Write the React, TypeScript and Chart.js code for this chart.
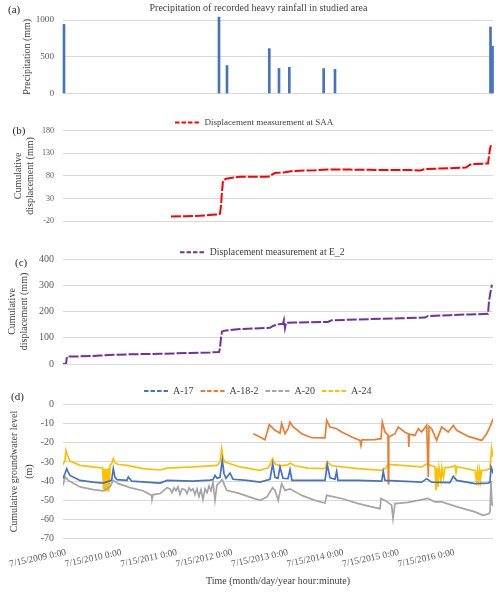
import React, { useEffect, useRef } from 'react';
import { Chart, registerables } from 'chart.js';

Chart.register(...registerables);

const FONT = '"Liberation Serif", "Times New Roman", Times, serif';

// x axis: years elapsed since 7/15/2009 0:00
const X_MIN = -0.054;
const X_MAX = 7.694;
const yearTicks = [0, 1, 2, 3, 4, 5, 6, 7];
const yearLabels = [
  '7/15/2009 0:00', '7/15/2010 0:00', '7/15/2011 0:00', '7/15/2012 0:00',
  '7/15/2013 0:00', '7/15/2014 0:00', '7/15/2015 0:00', '7/15/2016 0:00',
];

// (a) heavy rainfall events
const rainX = [-0.036, 2.757, 2.901, 3.663, 3.838, 4.024, 4.643, 4.847, 7.649, 7.685];
const rainY = [940, 1040, 380, 610, 340, 356, 340, 328, 905, 644];

// (b) displacement at SAA  [time, mm]
const saa: [number, number][] = [
  [1.892, -9.4], [2.144, -9], [2.414, -8], [2.631, -6], [2.739, -5], [2.775, -3.5],
  [2.793, 15], [2.811, 45], [2.829, 70], [2.883, 74], [2.991, 76], [3.135, 78],
  [3.405, 78.5], [3.604, 78], [3.676, 79], [3.712, 83], [3.766, 86.5], [3.946, 88],
  [4.09, 91], [4.306, 92], [4.486, 92.5], [4.757, 94.5], [5.117, 94], [5.477, 93.5],
  [5.838, 93], [6.198, 93], [6.378, 92], [6.468, 95], [6.739, 96.5], [7.009, 97.5],
  [7.207, 98.5], [7.279, 105], [7.369, 106.5], [7.604, 107.5], [7.622, 125],
  [7.64, 140], [7.658, 148],
];

// (c) displacement at E_2  [time, mm]
const e2: [number, number][] = [
  [-0.054, 0], [0, 0], [0.018, 28], [0.252, 29], [0.613, 32], [0.847, 35], [1.153, 37],
  [1.694, 39], [2.234, 42], [2.595, 44], [2.757, 46], [2.775, 60], [2.793, 100],
  [2.811, 124], [2.883, 128], [3.135, 133], [3.495, 136], [3.676, 138], [3.73, 145],
  [3.82, 151], [3.91, 153], [3.928, 168], [3.946, 137], [3.964, 157], [4.126, 158],
  [4.396, 159], [4.721, 160], [4.775, 166], [5.027, 168], [5.477, 171], [6.018, 174],
  [6.468, 177], [6.523, 183], [6.919, 186], [7.279, 189], [7.604, 191], [7.622, 240],
  [7.64, 262], [7.658, 285], [7.676, 302],
];

// (d) groundwater levels  [time, m]
const a17: [number, number][] = [
  [-0.054, -38.7], [-0.018, -36], [0.013, -33.5], [0.036, -35], [0.072, -37], [0.252, -39.6],
  [0.486, -40.5], [0.667, -41], [0.823, -39.6], [0.852, -33.5], [0.883, -38], [0.919, -39.2],
  [1.099, -39.6], [1.123, -37.8], [1.184, -40], [1.694, -41], [1.82, -39.6], [2.288, -40],
  [2.595, -39.5], [2.649, -39.2], [2.685, -37], [2.721, -38.5], [2.775, -38], [2.816, -29],
  [2.847, -36], [2.883, -38.5], [2.955, -35.8], [3.009, -39], [3.261, -39.6], [3.495, -40.5],
  [3.676, -39], [3.724, -31], [3.766, -38], [3.82, -38.5], [3.856, -32.6], [3.91, -38.5],
  [4.0, -38.7], [4.036, -34], [4.072, -39.6], [4.36, -39.6], [4.667, -39.6], [4.708, -31.3],
  [4.757, -38.3], [4.847, -39], [4.877, -35], [4.901, -39.6], [5.261, -39.6], [5.688, -40],
  [5.717, -35], [5.748, -39.6], [6.409, -40.5], [6.499, -38.7], [6.589, -40.5], [6.919, -40.8],
  [6.978, -37.5], [7.039, -39.6], [7.369, -41.3], [7.604, -41], [7.64, -40.5], [7.658, -32.6],
  [7.676, -34], [7.694, -36],
];

const a182: [number, number][] = [
  [3.375, -15.3], [3.459, -16.5], [3.586, -18.4], [3.663, -10.6], [3.766, -13.5], [3.856, -15],
  [3.886, -10], [3.946, -15.3], [4.005, -12.5], [4.036, -9.2], [4.095, -11.8], [4.247, -15.3],
  [4.427, -17.4], [4.667, -17.5], [4.697, -8.3], [4.757, -11.8], [4.877, -12.7], [4.968, -14.4],
  [5.148, -17], [5.297, -18.8], [5.315, -21.5], [5.333, -18.5], [5.568, -18.4], [5.676, -17.9],
  [5.699, -9.2], [5.748, -14.4], [5.802, -16], [5.807, -41.3], [5.816, -17], [5.928, -15.3],
  [5.987, -11.8], [6.108, -14.5], [6.168, -15.3], [6.177, -22.2], [6.186, -15.5], [6.288, -16.2],
  [6.348, -12.7], [6.409, -14.4], [6.499, -10.9], [6.528, -37.8], [6.541, -11.5], [6.589, -12.7],
  [6.679, -18.8], [6.77, -11.8], [6.888, -14.4], [6.978, -11], [7.039, -13.5], [7.249, -16.7],
  [7.49, -18.8], [7.58, -15.3], [7.64, -11.8], [7.694, -7.5],
];

const a20: [number, number][] = [
  [-0.054, -42.2], [-0.018, -37.8], [0.041, -39.6], [0.252, -43], [0.492, -44.4], [0.672, -45],
  [0.793, -43], [0.852, -39.6], [0.942, -41.3], [1.094, -42.7], [1.153, -43.4], [1.387, -45],
  [1.544, -47.4], [1.55, -49.6], [1.568, -47], [1.694, -46.5], [1.82, -43.4], [1.874, -44],
  [1.91, -46], [1.946, -43.5], [1.982, -45], [2.018, -43], [2.054, -47], [2.09, -44],
  [2.144, -44.5], [2.18, -46.5], [2.216, -43.5], [2.252, -45], [2.288, -44], [2.324, -47],
  [2.36, -44], [2.396, -48], [2.432, -44.5], [2.468, -49.6], [2.505, -44], [2.541, -46],
  [2.577, -42.5], [2.613, -45], [2.649, -40.5], [2.685, -50], [2.721, -42], [2.775, -40.5],
  [2.816, -39.2], [2.895, -44.8], [3.135, -46.5], [3.315, -48.3],
  [3.495, -50], [3.616, -48.3], [3.724, -43.4], [3.766, -44.8], [3.825, -50], [3.886, -41.3],
  [3.946, -44.8], [4.036, -44], [4.247, -47.4], [4.486, -50], [4.667, -51.4], [4.697, -47.4],
  [4.968, -49], [5.267, -51.7], [5.568, -53.8], [5.658, -54.3], [5.676, -49], [5.748, -50],
  [5.868, -52.5], [5.892, -59.5], [5.928, -51.7], [6.162, -51], [6.523, -49], [6.649, -50.8],
  [6.77, -50.8], [7.063, -53.5], [7.369, -56], [7.514, -57.8], [7.617, -57], [7.64, -56],
  [7.658, -40], [7.676, -52], [7.694, -53],
];

const a24: [number, number][] = [
  [-0.054, -31.4], [-0.018, -29], [0, -24], [0.018, -26], [0.072, -29.5], [0.252, -31.8],
  [0.486, -32.6], [0.661, -33.2], [0.676, -44], [0.69, -33.5], [0.703, -45], [0.717, -33.5],
  [0.73, -44.5], [0.744, -33.5], [0.757, -45], [0.771, -33], [0.784, -43], [0.793, -32],
  [0.829, -30.5], [0.852, -28.3], [0.883, -30.5], [0.937, -31.2], [1.099, -31.8], [1.387, -33.5],
  [1.694, -34.2], [1.82, -33.2], [2.288, -32.6], [2.595, -32], [2.721, -31.8], [2.775, -30],
  [2.805, -23], [2.829, -28], [2.865, -30], [3.135, -32.6], [3.495, -34.4], [3.64, -33],
  [3.676, -31.5], [3.724, -28.3], [3.766, -31], [3.856, -32], [4.0, -31.5], [4.036, -30.6],
  [4.126, -32], [4.36, -33.2], [4.667, -33.5], [4.708, -30], [4.793, -32], [5.261, -33.5],
  [5.688, -34.4], [5.748, -33.5], [5.807, -31.3], [6.162, -32], [6.409, -32.6], [6.499, -31],
  [6.589, -32], [6.649, -32.5], [6.667, -44.8], [6.685, -33], [6.703, -43], [6.721, -33],
  [6.757, -39.6], [6.775, -33], [6.802, -38], [6.829, -33], [6.95, -32.6], [7.009, -31.8],
  [7.027, -35.5], [7.045, -32.5], [7.369, -34.4], [7.396, -39.6], [7.414, -34.5], [7.432, -39.6],
  [7.45, -34.5], [7.468, -39.6], [7.486, -34.4], [7.55, -34.4], [7.64, -33.5], [7.67, -23],
  [7.694, -27.4],
];

const toXY = (pts: [number, number][]) => pts.map(([x, y]) => ({ x, y }));

function xScale(show: boolean) {
  return {
    type: 'linear',
    min: X_MIN,
    max: X_MAX,
    offset: false,
    display: show,
    afterBuildTicks: (s: any) => { s.ticks = yearTicks.map((v) => ({ value: v })); },
    afterFit: show ? (s: any) => { s.height = 52.2; } : undefined,
    grid: { display: false, drawTicks: false },
    border: { display: false },
    ticks: {
      autoSkip: false, minRotation: 12, maxRotation: 12, padding: 8,
      color: '#595959', font: { family: FONT, size: 9.5 },
      callback: (_v: any, i: number) => yearLabels[i],
    },
    title: {
      display: show, text: 'Time (month/day/year hour:minute)', color: '#404040',
      font: { family: FONT, size: 10 }, padding: { top: 4, bottom: 4 },
    },
  };
}

function yScale(min: number, max: number, ticks: number[], tickSize: number,
  title: string | string[], lineHeight: number, titlePad: number) {
  return {
    type: 'linear',
    min, max,
    afterBuildTicks: (s: any) => { s.ticks = ticks.map((v) => ({ value: v })); },
    afterFit: (s: any) => { s.width = 63; },
    grid: { color: '#d9d9d9', lineWidth: 1, drawTicks: false },
    border: { display: false },
    ticks: {
      padding: 9, color: '#595959', font: { family: FONT, size: tickSize },
      callback: (v: any) => String(v),
    },
    title: {
      display: true, text: title, color: '#404040',
      font: { family: FONT, size: 10, lineHeight }, padding: { top: titlePad, bottom: 0 },
    },
  };
}

function legendOpts(size: number, pad: number, maxHeight: number, boxW: number, lineW: number) {
  return {
    display: true, position: 'top', maxHeight,
    labels: {
      usePointStyle: true, pointStyle: 'line', pointStyleWidth: boxW, padding: pad,
      color: '#404040', font: { family: FONT, size: size },
      generateLabels: (chart: any) =>
        (Chart.defaults.plugins.legend.labels as any).generateLabels(chart).map((it: any) => ({
          ...it, lineDash: [4.5, 2], lineWidth: lineW,
        })),
    },
  };
}

const shift = (dx: number) => ({
  id: 'shiftBoxes',
  afterLayout(chart: any) {
    const l = chart.legend;
    if (l) { l.left += dx; l.right += dx; }
    const t = chart.titleBlock;
    if (t) { t.left += dx; t.right += dx; }
  },
});

const common = {
  responsive: false, animation: false, devicePixelRatio: 1, events: [],
};

function buildA(): any {
  return {
    type: 'bar',
    data: {
      datasets: [{
        data: rainX.map((x, i) => ({ x, y: rainY[i] })),
        backgroundColor: '#4472C4', barThickness: 2, clip: false,
      }],
    },
    options: {
      ...common,
      layout: { padding: { left: 0, right: 7, top: 0, bottom: 6 }, autoPadding: false },
      plugins: {
        legend: { display: false },
        tooltip: { enabled: false },
        title: {
          display: true, text: 'Precipitation of recorded heavy rainfall in studied area',
          color: '#404040', font: { family: FONT, size: 10, weight: 'normal', lineHeight: 1.2 },
          padding: { top: 2.5, bottom: 5.5 },
        },
      },
      scales: {
        x: xScale(false),
        y: yScale(0, 1000, [0, 500, 1000], 9.2, 'Precipitation (mm)', 1.2, 21.5),
      },
    },
    plugins: [shift(12)],
  };
}

function buildB(): any {
  return {
    type: 'line',
    data: {
      datasets: [{
        label: 'Displacement measurement at SAA', data: toXY(saa),
        borderColor: '#FF0000', backgroundColor: '#FF0000', borderWidth: 2,
        borderDash: [10, 2], pointRadius: 0, tension: 0,
      }],
    },
    options: {
      ...common,
      layout: { padding: { left: 0, right: 7, top: 0, bottom: 5.7 }, autoPadding: false },
      plugins: { legend: legendOpts(9, 3, 15.7, 25, 2), tooltip: { enabled: false } },
      scales: {
        x: xScale(false),
        y: yScale(-20, 180, [-20, 30, 80, 130, 180], 8, ['Cumulative', 'displacement (mm)'], 1.2, 12),
      },
    },
    plugins: [shift(7.6)],
  };
}

function buildC(): any {
  return {
    type: 'line',
    data: {
      datasets: [{
        label: 'Displacement measurement at E_2', data: toXY(e2),
        borderColor: '#7030A0', backgroundColor: '#7030A0', borderWidth: 2,
        borderDash: [10, 2], pointRadius: 0, tension: 0,
      }],
    },
    options: {
      ...common,
      layout: { padding: { left: 0, right: 7, top: 0, bottom: 6.7 }, autoPadding: false },
      plugins: { legend: legendOpts(9.7, 3.5, 15, 25, 2), tooltip: { enabled: false } },
      scales: {
        x: xScale(false),
        y: yScale(0, 400, [0, 100, 200, 300, 400], 10, ['Cumulative', 'displacement (mm)'], 1.15, 7),
      },
    },
    plugins: [shift(15.8)],
  };
}

function buildD(): any {
  const ds = (label: string, pts: [number, number][], color: string) => ({
    label, data: toXY(pts), borderColor: color, backgroundColor: color,
    borderWidth: 1.7, pointRadius: 0, tension: 0,
  });
  return {
    type: 'line',
    data: {
      datasets: [
        ds('A-17', a17, '#4472C4'),
        ds('A-18-2', a182, '#ED7D31'),
        ds('A-20', a20, '#A5A5A5'),
        ds('A-24', a24, '#FFC000'),
      ],
    },
    options: {
      ...common,
      layout: { padding: { left: 0, right: 7, top: 0, bottom: 1 }, autoPadding: false },
      plugins: { legend: legendOpts(10, 7, 25.3, 24, 2), tooltip: { enabled: false } },
      scales: {
        x: xScale(true),
        y: yScale(-70, 0, [-70, -60, -50, -40, -30, -20, -10, 0], 10,
          ['Cumulative groundwater level', '(m)'], 1.5, 7),
      },
    },
    plugins: [shift(11.3)],
  };
}

function ChartBox({ top, height, build }: { top: number; height: number; build: () => any }) {
  const ref = useRef<HTMLCanvasElement>(null);
  useEffect(() => {
    const chart = new Chart(ref.current as HTMLCanvasElement, build());
    return () => chart.destroy();
  }, []);
  return (
    <canvas
      ref={ref}
      width={500}
      height={height}
      style={{ position: 'absolute', left: 0, top, width: 500, height, display: 'block' }}
    />
  );
}

function PanelLabel({ text, x, y }: { text: string; x: number; y: number }) {
  return (
    <div style={{
      position: 'absolute', left: x, top: y - 7, height: 14, lineHeight: '14px',
      fontFamily: FONT, fontSize: 11, color: '#262626', whiteSpace: 'nowrap',
    }}>{text}</div>
  );
}

export default function App() {
  return (
    <div style={{
      position: 'absolute', left: 0, top: 0, width: 500, height: 592,
      background: '#ffffff', overflow: 'hidden',
    }}>
      <ChartBox top={0} height={108} build={buildA} />
      <ChartBox top={115} height={120} build={buildB} />
      <ChartBox top={244} height={135} build={buildC} />
      <ChartBox top={379} height={213} build={buildD} />
      <PanelLabel text="(a)" x={8} y={9} />
      <PanelLabel text="(b)" x={12.5} y={130} />
      <PanelLabel text="(c)" x={15} y={261.5} />
      <PanelLabel text="(d)" x={11} y={396} />
    </div>
  );
}
